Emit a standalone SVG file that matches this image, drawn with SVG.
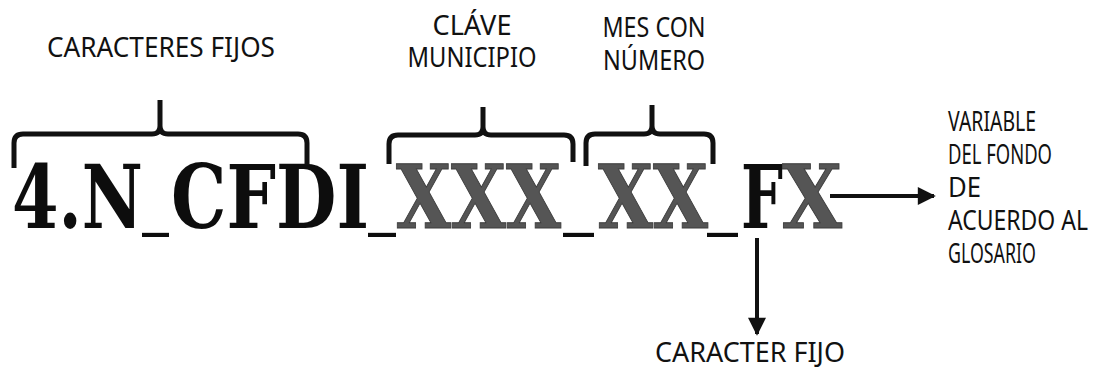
<svg xmlns="http://www.w3.org/2000/svg" width="1096" height="374" viewBox="0 0 1096 374">
  <defs>
    <style>
      .lbl { font-family: "Noto Sans", "Liberation Sans", sans-serif; font-size: 27px; fill: #111; }
      .big { font-family: "DejaVu Serif", "Liberation Serif", serif; font-weight: bold; font-size: 88px; }
      .us { font-family: "DejaVu Serif", "Liberation Serif", serif; font-weight: bold; font-size: 44px; fill: #0d0d0d; }
      .blk { fill: #0d0d0d; }
      .gry { fill: #555555; stroke: #3c3c3c; stroke-width: 1; }
      .brace { fill: none; stroke: #111; stroke-width: 5; stroke-linejoin: round; }
      .conn { stroke: #111; stroke-width: 4; fill: none; }
    </style>
    <marker id="ah" viewBox="0 0 10 10" refX="9" refY="5" markerWidth="5" markerHeight="4.5" markerUnits="strokeWidth" orient="auto">
      <path d="M0,0 L10,5 L0,10 z" fill="#111"/>
    </marker>
  </defs>
  <rect width="1096" height="374" fill="#ffffff"/>

  <g id="code">
    <text class="big blk" x="12" y="228" textLength="131" lengthAdjust="spacingAndGlyphs">4.N</text>
    <text class="us" x="142" y="226" textLength="27" lengthAdjust="spacingAndGlyphs">_</text>
    <text class="big blk" x="171" y="228" textLength="198" lengthAdjust="spacingAndGlyphs">CFDI</text>
    <text class="us" x="368" y="226" textLength="28" lengthAdjust="spacingAndGlyphs">_</text>
    <text class="big gry" x="396" y="228" textLength="165" lengthAdjust="spacingAndGlyphs">XXX</text>
    <text class="us" x="563" y="226" textLength="31" lengthAdjust="spacingAndGlyphs">_</text>
    <text class="big gry" x="598" y="228" textLength="110" lengthAdjust="spacingAndGlyphs">XX</text>
    <text class="us" x="707" y="226" textLength="31" lengthAdjust="spacingAndGlyphs">_</text>
    <text class="big blk" x="741" y="228" textLength="42" lengthAdjust="spacingAndGlyphs">F</text>
    <text class="big gry" x="782" y="228" textLength="60" lengthAdjust="spacingAndGlyphs">X</text>
  </g>

  <g id="caracteres-fijos">
    <path class="brace" d="M14,168 V143 Q14,134 23,134 H152 Q160,134 160,126 V100 M160,126 Q160,134 168,134 H298 Q307,134 307,143 V165"/>
    <text class="lbl" x="47" y="57" textLength="228" lengthAdjust="spacingAndGlyphs">CARACTERES FIJOS</text>
  </g>

  <g id="clave-municipio">
    <path class="brace" d="M389,164 V144 Q389,135 398,135 H475 Q483,135 483,127 V107 M483,127 Q483,135 491,135 H564 Q573,135 573,144 V162"/>
    <text class="lbl" x="472" y="35" text-anchor="middle" textLength="79" lengthAdjust="spacingAndGlyphs">CLÁVE</text>
    <text class="lbl" x="472" y="67" text-anchor="middle" textLength="129" lengthAdjust="spacingAndGlyphs">MUNICIPIO</text>
  </g>

  <g id="mes-con-numero">
    <path class="brace" d="M586,166 V143 Q586,134 595,134 H644 Q652,134 652,126 V105 M652,126 Q652,134 660,134 H704 Q713,134 713,143 V164"/>
    <text class="lbl" x="654" y="37" text-anchor="middle" textLength="103" lengthAdjust="spacingAndGlyphs">MES CON</text>
    <text class="lbl" x="654" y="70" text-anchor="middle" textLength="102" lengthAdjust="spacingAndGlyphs">NÚMERO</text>
  </g>

  <g id="variable-fondo">
    <text class="lbl" x="948" y="131" textLength="88" lengthAdjust="spacingAndGlyphs">VARIABLE</text>
    <text class="lbl" x="948" y="164" textLength="104" lengthAdjust="spacingAndGlyphs">DEL FONDO</text>
    <text class="lbl" x="948" y="197" textLength="33" lengthAdjust="spacingAndGlyphs">DE</text>
    <text class="lbl" x="948" y="230" textLength="140" lengthAdjust="spacingAndGlyphs">ACUERDO AL</text>
    <text class="lbl" x="948" y="263" textLength="88" lengthAdjust="spacingAndGlyphs">GLOSARIO</text>
  </g>

  <g id="caracter-fijo">
    <text class="lbl" x="655" y="362" textLength="190" lengthAdjust="spacingAndGlyphs">CARACTER FIJO</text>
  </g>

  <g id="connectors">
    <line class="conn" x1="830" y1="196" x2="934" y2="196" marker-end="url(#ah)"/>
    <line class="conn" x1="757" y1="238" x2="757" y2="334" marker-end="url(#ah)"/>
  </g>
</svg>
